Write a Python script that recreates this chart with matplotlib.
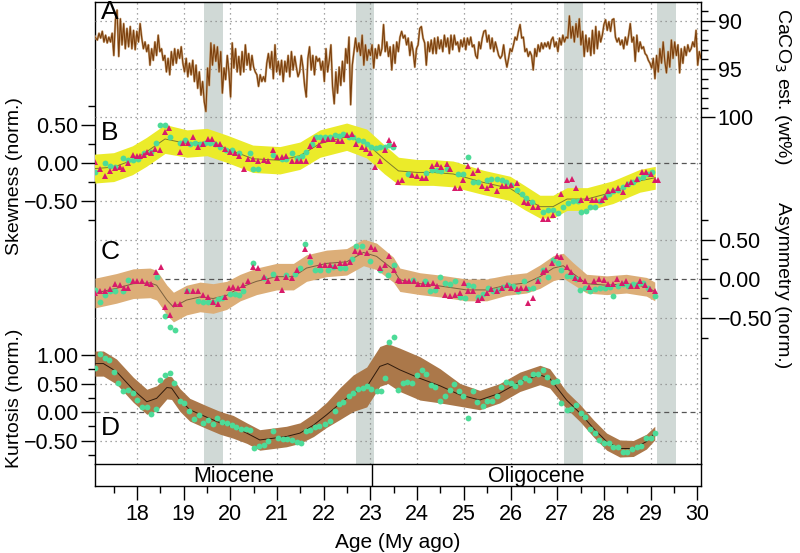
import numpy as np
import matplotlib
matplotlib.use("Agg")
import matplotlib.pyplot as plt
from matplotlib.ticker import FixedLocator, MultipleLocator

plt.rcParams['font.family'] = ['Liberation Sans', 'DejaVu Sans']
plt.rcParams['axes.unicode_minus'] = True

W, H = 800, 553
X0, X1 = 17.10, 30.08

# ---- panel A: CaCO3 estimate (evenly sampled record) ----
caco3 = [91.5, 91.8, 92.0, 91.3, 91.8, 91.1, 92.2, 91.5, 92.3, 91.7, 92.2, 91.3, 93.6, 89.9, 88.9, 93.7, 89.8, 92.5, 90.3, 92.9,
         90.8, 92.7, 90.6, 92.9, 91.0, 93.0, 91.1, 92.2, 90.3, 91.8, 92.9, 92.2, 93.2, 92.5, 94.6, 92.9, 94.1, 92.2, 93.6, 91.5,
         93.2, 92.9, 94.1, 93.6, 95.3, 93.9, 95.6, 93.2, 94.6, 92.9, 94.4, 93.0, 93.9, 92.7, 94.4, 95.3, 93.9, 95.8, 94.4, 95.6,
         94.1, 96.3, 94.6, 97.0, 95.3, 97.7, 96.3, 98.4, 99.4, 94.9, 96.7, 92.3, 94.6, 92.5, 94.2, 92.7, 95.3, 93.2, 97.5, 94.9,
         96.1, 93.6, 95.3, 97.9, 92.3, 94.9, 92.9, 95.3, 93.7, 95.6, 93.2, 95.3, 92.5, 94.6, 93.4, 95.1, 93.6, 94.8, 95.3, 95.6,
         96.8, 95.6, 96.3, 95.8, 96.3, 94.4, 93.4, 94.9, 93.2, 96.0, 92.5, 95.3, 94.2, 95.6, 94.1, 96.3, 94.2, 95.3, 93.6, 95.8,
         93.2, 95.1, 93.7, 94.8, 95.8,
         95.3, 93.6, 94.8, 96.7, 97.9, 93.9, 92.7, 95.1, 93.6, 95.6, 93.7, 94.2, 93.9, 95.1, 94.2, 96.3, 92.9, 95.3, 94.1, 92.5,
         96.8, 98.6, 95.3, 97.5, 94.8, 96.7, 94.2, 96.3, 92.9, 94.4, 91.7, 98.7, 94.6, 93.2, 91.8, 93.2, 92.3, 93.6, 91.5, 94.6,
         92.5, 94.1, 93.0, 93.6, 92.5, 94.9, 92.9, 93.9, 92.5, 93.6, 92.9, 90.4, 93.2, 92.2, 93.7, 92.7, 95.1, 92.5, 94.4, 92.2,
         93.2, 91.7, 91.1, 91.8, 91.5, 92.5, 91.8, 93.6, 92.2, 93.2, 94.8, 92.9, 92.5, 90.8, 90.6, 91.8, 92.3, 94.6, 92.2, 93.2,
         92.0, 93.4, 91.8, 93.4, 91.7, 92.9, 92.0, 93.2, 91.5, 92.7, 91.8, 93.4, 91.5, 93.0, 91.5, 92.5, 92.2, 93.2, 92.0, 92.7,
         91.8, 93.0, 91.8, 92.5, 91.7, 92.7, 92.5, 93.6, 93.9, 92.2, 92.9, 91.8, 91.1, 91.0, 92.2, 91.5, 92.9, 91.8, 93.2, 92.2,
         92.9, 93.6, 93.9,
         93.6, 92.5, 93.9, 94.8, 93.9, 92.9, 93.2, 92.5, 91.7, 92.0, 91.1, 90.4, 91.8, 91.7, 93.2, 92.9, 93.7, 93.2, 93.6, 95.1,
         92.9, 93.7, 92.5, 93.2, 92.3, 92.9, 92.3, 92.7, 92.2, 92.9, 92.0, 91.7, 92.7, 92.2, 93.2, 91.8, 92.5, 91.5, 92.2, 91.7,
         91.8, 89.5, 91.8, 90.6, 92.2, 90.3, 91.7, 89.8, 92.5, 91.1, 93.7, 91.5, 93.2, 91.8, 93.6, 91.0, 93.4, 90.6, 92.9, 91.1,
         92.2, 91.5, 90.4, 89.9, 91.0, 90.1, 91.1, 89.9, 89.8, 91.7, 92.2, 91.8, 92.5, 92.0, 92.9, 91.7, 92.5, 91.5, 90.3, 92.2,
         91.7, 94.2, 91.5, 93.2, 92.2, 92.9, 92.7, 93.4, 93.6, 94.1, 94.4, 94.9, 93.9, 96.0, 93.6, 95.3, 92.9, 94.4, 92.2, 94.2,
         95.4, 93.2, 94.8, 92.0, 93.9, 92.2, 93.6, 92.5, 95.4, 92.9, 94.4, 92.7, 93.6, 92.5, 93.2, 92.9, 92.2, 92.7, 91.0, 94.6,
         93.2, 93.9]
age_a = np.linspace(17.08, 30.08, len(caco3))

# ---- panel B: skewness ----
skew_age = [17.08, 17.5, 17.9, 18.2, 18.6, 19.07, 19.5, 19.93, 20.48, 21.06, 21.49, 21.92, 22.49, 22.92, 23.3,
            23.6, 24.0, 24.34, 24.77, 25.41, 25.99, 26.3, 26.63, 26.91, 27.21, 27.64, 28.19, 28.77, 29.1]
skew_fit = [-0.07, -0.05, 0.04, 0.15, 0.32, 0.26, 0.28, 0.19, 0.06, 0.04, 0.10, 0.26, 0.35, 0.26, 0.05,
            -0.10, -0.12, -0.12, -0.14, -0.25, -0.33, -0.45, -0.57, -0.57, -0.47, -0.47, -0.38, -0.23, -0.19]
skew_err = [0.19, 0.19, 0.19, 0.19, 0.19, 0.18, 0.18, 0.18, 0.18, 0.18, 0.18, 0.18, 0.18, 0.19, 0.19,
            0.18, 0.17, 0.17, 0.17, 0.16, 0.16, 0.16, 0.15, 0.15, 0.15, 0.15, 0.15, 0.15, 0.15]
skew_tri_age = [17.10, 17.21, 17.31, 17.42, 17.53, 17.64, 17.69, 17.81, 17.91, 17.99, 18.06, 18.14, 18.21, 18.29, 18.39,
                18.49, 18.60, 18.69, 18.91, 18.99, 19.10, 19.19, 19.31, 19.41, 19.51, 19.60, 19.69, 19.78, 19.88, 19.99,
                20.10, 20.19, 20.30, 20.38, 20.49, 20.60, 20.71, 20.81, 20.91, 20.99, 21.10, 21.19, 21.31, 21.42, 21.51,
                21.62, 21.70, 21.80, 21.90, 21.99, 22.10, 22.19, 22.30, 22.40, 22.50, 22.61, 22.70, 22.81, 22.90, 23.00,
                23.10, 23.20, 23.31, 23.40, 23.51, 23.60, 23.67, 23.88, 23.99, 24.10, 24.20, 24.31, 24.42, 24.52, 24.63,
                24.70, 24.81, 24.92, 24.99, 25.10, 25.20, 25.31, 25.38, 25.49, 25.59, 25.70, 25.81, 25.91, 26.02, 26.13,
                26.29, 26.38, 26.49, 26.59, 26.70, 26.81, 26.92, 27.09, 27.20, 27.31, 27.41, 27.52, 27.63, 27.74, 27.84,
                27.95, 28.02, 28.09, 28.20, 28.31, 28.40, 28.49, 28.59, 28.70, 28.81, 28.91, 29.00, 29.09, 29.16]
skew_tri = [0.02, -0.07, -0.17, -0.10, -0.06, -0.05, -0.08, 0.00, 0.11, 0.09, 0.09, 0.11, 0.15, 0.14, 0.19,
            0.17, 0.41, 0.46, 0.15, 0.27, 0.27, 0.34, 0.22, 0.25, 0.32, 0.32, 0.26, 0.26, 0.19, 0.15,
            0.14, 0.09, -0.08, 0.06, 0.06, 0.03, 0.04, 0.03, 0.17, 0.08, 0.08, 0.09, 0.03, 0.03, 0.03,
            0.03, 0.23, 0.32, 0.24, 0.31, 0.32, 0.32, 0.29, 0.30, 0.37, 0.39, 0.26, 0.22, 0.19, 0.13,
            -0.05, 0.03, 0.17, 0.31, 0.26, -0.25, -0.22, -0.16, -0.17, -0.19, -0.19, -0.03, -0.01, -0.05, -0.01,
            -0.07, -0.32, -0.33, -0.22, -0.04, -0.13, -0.09, -0.30, -0.32, -0.29, -0.36, -0.30, -0.30, -0.29, -0.26,
            -0.51, -0.52, -0.57, -0.57, -0.73, -0.73, -0.68, -0.40, -0.22, -0.21, -0.32, -0.48, -0.46, -0.48, -0.48,
            -0.48, -0.44, -0.36, -0.35, -0.32, -0.38, -0.27, -0.25, -0.20, -0.11, -0.11, -0.14, -0.22, -0.22]
skew_dot_age = [17.10, 17.31, 17.42, 17.53, 17.71, 17.81, 17.92, 18.03, 18.14, 18.31, 18.41, 18.49, 18.60, 18.71, 18.91,
                19.03, 19.13, 19.24, 19.35, 19.46, 19.56, 19.67, 19.78, 19.91, 20.03, 20.19, 20.41, 20.49, 20.60, 20.92,
                21.10, 21.20, 21.31, 21.42, 21.53, 21.62, 21.74, 21.83, 21.92, 22.03, 22.13, 22.24, 22.33, 22.42, 22.53,
                22.63, 22.74, 22.85, 22.92, 23.02, 23.12, 23.20, 23.31, 23.40, 23.49, 23.81, 24.20, 24.31, 24.42, 24.52,
                24.63, 24.88, 24.99, 25.10, 25.20, 25.31, 25.49, 25.59, 25.70, 25.81, 25.91, 26.02, 26.13, 26.24, 26.34,
                26.45, 26.70, 26.81, 26.92, 27.02, 27.13, 27.23, 27.34, 27.45, 27.52, 27.61, 27.70, 27.81, 27.91, 28.02,
                28.11, 28.20, 28.31, 28.41, 28.52, 28.63, 28.73, 28.84, 28.95, 29.02]
skew_dot = [-0.11, 0.00, -0.03, -0.05, 0.07, 0.05, 0.05, 0.06, 0.13, 0.15, 0.27, 0.51, 0.51, 0.35, 0.27,
            0.31, 0.25, 0.27, 0.26, 0.27, 0.27, 0.26, 0.21, 0.17, 0.17, 0.13, 0.13, -0.08, -0.08, 0.11,
            0.06, 0.06, 0.14, 0.07, 0.09, 0.15, 0.26, 0.34, 0.34, 0.35, 0.35, 0.37, 0.36, 0.39, 0.35,
            0.35, 0.31, 0.30, 0.26, 0.21, 0.20, 0.21, 0.21, 0.24, 0.21, -0.14, -0.13, -0.09, -0.09, -0.10,
            -0.08, -0.14, -0.14, 0.08, -0.25, -0.25, -0.22, -0.21, -0.21, -0.22, -0.25, -0.29, -0.35, -0.40, -0.46,
            -0.51, -0.64, -0.61, -0.62, -0.66, -0.57, -0.52, -0.50, -0.50, -0.64, -0.63, -0.57, -0.57, -0.49, -0.44,
            -0.40, -0.36, -0.35, -0.31, -0.27, -0.25, -0.21, -0.18, -0.14, -0.11]

# ---- panel C: asymmetry ----
asym_age = [17.10, 17.56, 17.92, 18.28, 18.42, 18.64, 18.78, 19.06, 19.35, 19.63, 19.92, 20.21, 20.56, 20.99, 21.35,
            21.63, 22.06, 22.49, 22.85, 23.13, 23.49, 23.63, 24.06, 24.49, 25.06, 25.49, 25.91, 26.34, 26.63, 26.92,
            27.13, 27.34, 27.63, 28.06, 28.48, 28.91, 29.09]
asym_fit = [-0.18, -0.12, -0.06, -0.05, -0.08, -0.27, -0.36, -0.27, -0.23, -0.25, -0.21, -0.11, -0.03, 0.03, 0.03,
            0.14, 0.20, 0.22, 0.34, 0.29, 0.12, -0.01, -0.06, -0.09, -0.14, -0.14, -0.08, -0.05, 0.03, 0.14,
            0.17, 0.07, -0.06, -0.08, -0.06, -0.10, -0.16]
asym_err = [0.19, 0.19, 0.19, 0.19, 0.19, 0.19, 0.19, 0.19, 0.19, 0.19, 0.18, 0.17, 0.17, 0.17, 0.17,
            0.17, 0.17, 0.17, 0.17, 0.17, 0.16, 0.15, 0.14, 0.14, 0.14, 0.14, 0.13, 0.13, 0.15, 0.16,
            0.16, 0.14, 0.12, 0.12, 0.12, 0.12, 0.12]
asym_tri_age = [17.10, 17.21, 17.31, 17.42, 17.53, 17.64, 17.72, 17.81, 17.91, 17.99, 18.10, 18.21, 18.31, 18.41, 18.51,
                18.60, 18.71, 18.81, 18.92, 19.08, 19.19, 19.31, 19.42, 19.53, 19.63, 19.74, 19.88, 19.98, 20.06, 20.17,
                20.28, 20.38, 20.49, 20.60, 20.71, 20.81, 21.00, 21.11, 21.20, 21.31, 21.43, 21.60, 21.70, 21.92, 22.03,
                22.13, 22.24, 22.35, 22.45, 22.56, 22.67, 22.78, 22.92, 23.02, 23.10, 23.20, 23.31, 23.40, 23.51, 23.60,
                23.63, 23.74, 23.83, 23.93, 24.02, 24.13, 24.24, 24.35, 24.43, 24.59, 24.70, 24.81, 24.92, 25.00, 25.10,
                25.20, 25.31, 25.38, 25.49, 25.59, 25.70, 25.81, 25.92, 26.02, 26.13, 26.22, 26.33, 26.38, 26.49, 26.59,
                26.69, 26.77, 26.88, 26.99, 27.09, 27.20, 27.29, 27.38, 27.49, 27.59, 27.69, 27.79, 27.89, 28.00, 28.09,
                28.20, 28.29, 28.38, 28.48, 28.59, 28.70, 28.78, 28.89, 28.98, 29.09]
asym_tri = [-0.18, -0.16, -0.15, -0.13, -0.06, -0.08, -0.11, -0.12, -0.03, -0.03, -0.03, -0.05, -0.06, 0.09, 0.15,
            -0.36, -0.46, -0.32, -0.32, -0.16, -0.15, -0.16, -0.21, -0.23, -0.29, -0.32, -0.23, -0.11, -0.10, -0.11,
            -0.08, -0.03, 0.15, 0.14, 0.03, -0.03, 0.01, -0.14, 0.03, 0.01, 0.12, 0.39, 0.29, 0.18, 0.18,
            0.18, 0.17, 0.20, 0.20, 0.22, 0.36, 0.35, 0.33, 0.41, 0.39, 0.14, 0.18, 0.29, 0.12, -0.01,
            -0.02, -0.03, -0.02, -0.03, -0.06, -0.06, -0.06, -0.05, -0.09, -0.21, -0.22, -0.21, -0.18, -0.05, -0.16,
            -0.16, -0.27, -0.24, -0.18, -0.13, -0.16, -0.12, -0.08, -0.12, -0.13, -0.12, -0.12, -0.31, -0.25, -0.03,
            0.09, 0.12, 0.20, 0.29, 0.28, 0.15, 0.09, 0.01, 0.00, -0.03, -0.10, -0.03, 0.00, -0.01, -0.06,
            -0.06, 0.00, -0.05, -0.03, -0.09, -0.09, -0.03, -0.08, -0.13, -0.15]
asym_dot_age = [17.10, 17.21, 17.31, 17.42, 17.53, 17.71, 17.81, 18.42, 18.60, 18.71, 18.81, 19.06, 19.31, 19.42, 19.53,
                19.63, 19.74, 19.83, 19.99, 20.10, 20.19, 20.28, 20.49, 20.71, 20.92, 21.20, 21.38, 21.49, 21.60, 21.70,
                21.81, 21.92, 22.10, 22.20, 22.35, 22.45, 22.60, 22.70, 22.81, 22.99, 23.20, 23.38, 23.51, 23.92, 24.17,
                24.27, 24.38, 24.49, 24.59, 24.70, 24.81, 24.92, 25.02, 25.10, 25.20, 25.31, 25.41, 25.52, 25.63, 25.74,
                25.84, 25.95, 26.06, 26.17, 26.29, 26.38, 26.49, 26.59, 26.70, 26.81, 26.92, 27.02, 27.09, 27.20, 27.29,
                27.40, 27.49, 27.59, 27.70, 27.81, 27.91, 28.02, 28.13, 28.20, 28.31, 28.41, 28.52, 28.63, 28.73, 28.84,
                28.95, 29.09]
asym_dot = [-0.14, -0.29, -0.21, -0.16, -0.16, -0.16, -0.01, 0.03, -0.47, -0.62, -0.65, -0.16, -0.28, -0.29, -0.29,
            -0.29, -0.26, -0.25, -0.19, -0.19, -0.21, -0.15, 0.20, 0.01, 0.07, 0.05, 0.07, 0.14, 0.45, 0.22,
            0.12, 0.12, 0.12, 0.15, 0.14, 0.14, 0.26, 0.42, 0.42, 0.23, 0.12, 0.05, 0.18, -0.01, -0.03,
            -0.16, -0.14, 0.03, -0.05, -0.06, -0.03, -0.23, -0.25, -0.08, -0.09, -0.23, -0.19, -0.12, -0.16, -0.14,
            -0.10, -0.08, -0.09, -0.16, -0.03, -0.13, -0.11, -0.01, 0.12, 0.03, 0.24, 0.20, 0.12, 0.04, 0.04,
            0.00, -0.14, -0.12, -0.16, -0.13, -0.12, -0.11, -0.10, -0.22, -0.09, -0.06, -0.09, -0.06, -0.06, -0.05,
            -0.12, -0.22]

# ---- panel D: kurtosis ----
kurt_age = [17.10, 17.28, 17.56, 17.92, 18.21, 18.42, 18.64, 18.74, 18.92, 19.13, 19.49, 19.78, 20.06, 20.35, 20.63,
            20.92, 21.20, 21.49, 21.78, 22.06, 22.35, 22.63, 22.92, 23.20, 23.37, 23.63, 24.06, 24.49, 24.92, 25.34,
            25.77, 26.20, 26.63, 26.84, 27.20, 27.49, 27.78, 28.06, 28.34, 28.63, 28.91, 29.09]
kurt_fit = [0.85, 0.85, 0.71, 0.39, 0.18, 0.24, 0.43, 0.42, 0.21, 0.04, -0.09, -0.19, -0.26, -0.37, -0.49,
            -0.46, -0.43, -0.37, -0.23, -0.05, 0.15, 0.33, 0.44, 0.80, 0.85, 0.74, 0.59, 0.46, 0.30, 0.21,
            0.33, 0.53, 0.65, 0.59, 0.21, -0.02, -0.29, -0.52, -0.64, -0.64, -0.52, -0.37]
kurt_err = [0.22, 0.22, 0.22, 0.22, 0.22, 0.22, 0.20, 0.20, 0.20, 0.20, 0.20, 0.20, 0.20, 0.18, 0.18,
            0.18, 0.18, 0.18, 0.20, 0.22, 0.28, 0.32, 0.35, 0.35, 0.35, 0.38, 0.38, 0.30, 0.20, 0.17,
            0.17, 0.17, 0.17, 0.17, 0.15, 0.15, 0.15, 0.15, 0.15, 0.14, 0.13, 0.12]
kurt_dot_age = [17.11, 17.21, 17.31, 17.41, 17.51, 17.60, 17.71, 17.81, 17.91, 18.01, 18.10, 18.21, 18.29, 18.40, 18.49,
                18.60, 18.71, 18.79, 18.91, 19.01, 19.11, 19.21, 19.32, 19.41, 19.51, 19.62, 19.71, 19.81, 19.92, 20.03,
                20.13, 20.22, 20.33, 20.42, 20.51, 20.62, 20.71, 20.81, 20.91, 21.01, 21.12, 21.22, 21.31, 21.42, 21.51,
                21.62, 21.70, 21.81, 21.90, 22.03, 22.13, 22.23, 22.33, 22.42, 22.53, 22.63, 22.74, 22.85, 22.93, 23.02,
                23.13, 23.22, 23.31, 23.40, 23.51, 23.60, 23.69, 23.79, 23.90, 23.99, 24.10, 24.20, 24.29, 24.38, 24.49,
                24.60, 24.70, 24.79, 24.90, 24.99, 25.10, 25.20, 25.29, 25.40, 25.49, 25.60, 25.70, 25.79, 25.90, 26.00,
                26.10, 26.20, 26.30, 26.40, 26.49, 26.59, 26.70, 26.79, 26.90, 27.00, 27.09, 27.20, 27.30, 27.40, 27.50,
                27.60, 27.70, 27.80, 27.90, 28.00, 28.10, 28.20, 28.30, 28.40, 28.50, 28.60, 28.70, 28.80, 28.90, 29.00,
                29.10]
kurt_dot = [0.77, 1.02, 0.94, 0.91, 0.71, 0.51, 0.36, 0.39, 0.34, 0.21, 0.08, 0.08, -0.04, 0.05, 0.57,
            0.65, 0.68, 0.51, 0.20, 0.15, 0.02, -0.13, -0.05, -0.19, -0.14, -0.21, -0.11, -0.17, -0.20, -0.23,
            -0.26, -0.29, -0.30, -0.32, -0.64, -0.60, -0.58, -0.50, -0.33, -0.46, -0.48, -0.48, -0.49, -0.52, -0.55,
            -0.33, -0.32, -0.27, -0.25, -0.21, -0.15, 0.01, 0.14, 0.18, 0.28, 0.34, 0.40, 0.43, 0.46, 0.40,
            0.36, 0.36, 0.59, 1.22, 1.31, 0.39, 0.51, 0.53, 0.51, 0.65, 0.73, 0.67, 0.47, 0.44, 0.20,
            0.28, 0.39, 0.50, 0.37, 0.28, -0.11, 0.36, 0.18, 0.11, 0.20, 0.20, 0.28, 0.44, 0.53, 0.51,
            0.46, 0.53, 0.59, 0.56, 0.67, 0.66, 0.74, 0.62, 0.53, 0.55, 0.15, 0.04, 0.06, 0.12, -0.01,
            -0.09, -0.30, -0.36, -0.49, -0.55, -0.55, -0.62, -0.62, -0.70, -0.70, -0.65, -0.62, -0.60, -0.46, -0.46,
            -0.36]

# events (grey bars) and epochs
event_bands = [(19.43, 19.84), (22.69, 23.07), (27.14, 27.55), (29.13, 29.54)]
epoch_names = ['Miocene', 'Oligocene']
epoch_edges = [X0, 23.03, X1]

TRI_COL = '#d81b6a'
DOT_COL = '#4ddb98'
FS = 15.5      # tick labels / epoch names
LFS = 14       # axis titles


def px_box(x0, y0, x1, y1):
    return [x0 / W, 1 - y1 / H, (x1 - x0) / W, (y1 - y0) / H]


def panel(fig, y0, y1, ylim, side):
    ax = fig.add_axes(px_box(95, y0, 701, y1))
    ax.patch.set_alpha(0)
    ax.set_xlim(X0, X1)
    ax.set_ylim(*ylim)
    for s in ax.spines.values():
        s.set_visible(False)
    ax.set_xticks([])
    ax.yaxis.set_ticks_position(side)
    ax.tick_params(axis='y', which='major', direction='out', length=10, width=1, labelsize=FS, pad=2)
    ax.tick_params(axis='y', which='minor', direction='out', length=5, width=1)
    return ax


def hlines(ax, dotted, dashed=0.0):
    for v in dotted:
        ax.axhline(v, color='#888888', lw=0.9, ls=(0, (1, 3)), zorder=0)
    ax.axhline(dashed, color='#555555', lw=0.9, ls=(0, (4, 3)), zorder=0.5)


fig = plt.figure(figsize=(W / 100, H / 100), dpi=100)

# base frame with event bars and vertical grid
base = fig.add_axes(px_box(95, 2, 701, 464))
base.set_xlim(X0, X1)
base.set_ylim(0, 1)
base.set_xticks([])
base.set_yticks([])
base.spines['bottom'].set_visible(False)
for s in ['left', 'right', 'top']:
    base.spines[s].set_linewidth(1.0)
for a, b in event_bands:
    base.axvspan(a, b, color='#d0d9d6', lw=0, zorder=0)
for yr in range(18, 31):
    base.axvline(yr, color='#888888', lw=0.9, ls=(0, (1, 3)), zorder=0.2)

# A
axA = panel(fig, 2, 125, (100.80, 88.06), 'right')
hlines(axA, [90, 95, 100], dashed=np.nan)
axA.plot(age_a, caco3, color='#c9a277', lw=1.6, solid_joinstyle='round')
axA.plot(age_a, caco3, color='#7b3f0c', lw=0.8)
axA.yaxis.set_major_locator(FixedLocator([90, 95, 100]))
axA.yaxis.set_minor_locator(MultipleLocator(1))
axA.text(17.22, 89.1, 'A', fontsize=19, va='center', ha='left')

# B
axB = panel(fig, 100, 235, (-0.943, 0.833), 'left')
hlines(axB, [-0.5])
lo = np.array(skew_fit) - np.array(skew_err)
hi = np.array(skew_fit) + np.array(skew_err)
axB.fill_between(skew_age, lo, hi, color='#ebeb2a', lw=0, zorder=1)
axB.plot(skew_age, skew_fit, color='#7d7b2c', lw=0.7, zorder=2)
axB.plot(skew_dot_age, skew_dot, 'o', color=DOT_COL, ms=4.2, mew=0, zorder=3)
axB.plot(skew_tri_age, skew_tri, '^', color=TRI_COL, ms=5.0, mew=0, zorder=4)
axB.yaxis.set_major_locator(FixedLocator([-0.5, 0, 0.5]))
axB.yaxis.set_minor_locator(FixedLocator([-0.75, -0.25, 0.25, 0.75]))
axB.set_yticklabels(['\u22120.50', '0.00', '0.50'])
axB.text(17.22, 0.40, 'B', fontsize=19, va='center', ha='left')

# C
axC = panel(fig, 215, 350, (-0.91, 0.82), 'right')
hlines(axC, [-0.5, 0.5])
lo = np.array(asym_fit) - np.array(asym_err)
hi = np.array(asym_fit) + np.array(asym_err)
axC.fill_between(asym_age, lo, hi, color='#dcae78', lw=0, zorder=1)
axC.plot(asym_age, asym_fit, color='#7a6040', lw=0.7, zorder=2)
axC.plot(asym_dot_age, asym_dot, 'o', color=DOT_COL, ms=4.2, mew=0, zorder=3)
axC.plot(asym_tri_age, asym_tri, '^', color=TRI_COL, ms=5.0, mew=0, zorder=4)
axC.yaxis.set_major_locator(FixedLocator([-0.5, 0, 0.5]))
axC.yaxis.set_minor_locator(FixedLocator([-0.75, -0.25, 0.25, 0.75]))
axC.set_yticklabels(['\u22120.50', '0.00', '0.50'])
axC.text(17.22, 0.35, 'C', fontsize=19, va='center', ha='left')

# D
axD = panel(fig, 330, 464, (-0.912, 1.439), 'left')
hlines(axD, [-0.5, 0.5, 1.0])
lo = np.array(kurt_fit) - np.array(kurt_err)
hi = np.array(kurt_fit) + np.array(kurt_err)
axD.fill_between(kurt_age, lo, hi, color='#ab784a', lw=0, zorder=1)
axD.plot(kurt_age, kurt_fit, color='#2e1a0c', lw=0.7, zorder=2)
axD.plot(kurt_dot_age, kurt_dot, 'o', color=DOT_COL, ms=4.2, mew=0, zorder=3)
axD.yaxis.set_major_locator(FixedLocator([-0.5, 0, 0.5, 1.0]))
axD.yaxis.set_minor_locator(FixedLocator([-0.75, -0.25, 0.25, 0.75]))
axD.set_yticklabels(['\u22120.50', '0.00', '0.50', '1.00'])
axD.text(17.22, -0.28, 'D', fontsize=19, va='center', ha='left')

# epoch strip + age axis
axE = fig.add_axes(px_box(95, 464, 701, 486))
axE.set_xlim(X0, X1)
axE.set_ylim(0, 1)
axE.set_yticks([])
for s in axE.spines.values():
    s.set_linewidth(1.0)
axE.axvline(epoch_edges[1], color='black', lw=1.0)
for name, a, b in zip(epoch_names, epoch_edges[:-1], epoch_edges[1:]):
    axE.text((a + b) / 2, 0.45, name, ha='center', va='center', fontsize=FS)
axE.xaxis.set_major_locator(MultipleLocator(1))
axE.xaxis.set_minor_locator(MultipleLocator(0.5))
axE.tick_params(axis='x', which='major', direction='out', length=10, width=1, labelsize=FS, pad=3)
axE.tick_params(axis='x', which='minor', direction='out', length=5, width=1)
axE.set_xlabel('Age (My ago)', fontsize=LFS + 1, labelpad=6)

fig.text(15 / W, 1 - 176 / H, 'Skewness (norm.)', rotation=90, ha='center', va='center', fontsize=LFS)
fig.text(15 / W, 1 - 398 / H, 'Kurtosis (norm.)', rotation=90, ha='center', va='center', fontsize=LFS)
fig.text(783 / W, 1 - 86 / H, 'CaCO$_3$ est. (wt%)', rotation=270, ha='center', va='center', fontsize=LFS)
fig.text(783 / W, 1 - 285 / H, 'Asymmetry (norm.)', rotation=270, ha='center', va='center', fontsize=LFS)

fig.savefig('out.png', dpi=100)
